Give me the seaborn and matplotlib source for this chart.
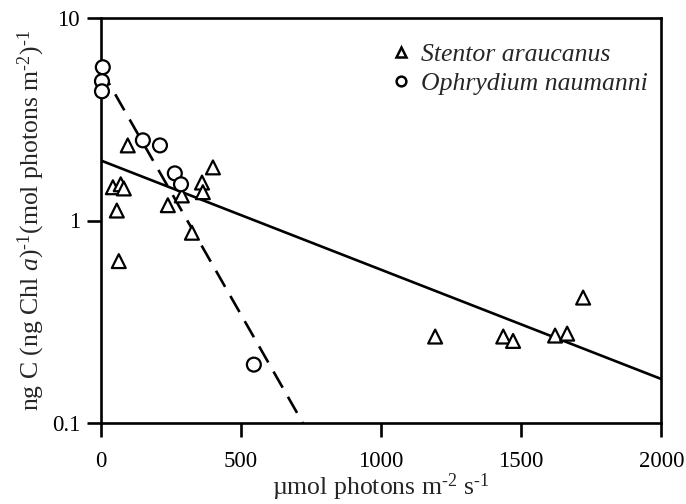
import numpy as np
import pandas as pd
import matplotlib
matplotlib.use("Agg")
import matplotlib.pyplot as plt
import seaborn as sns
from matplotlib.lines import Line2D

# ---- data ----
stentor_x = [96, 43, 71, 82, 57, 64, 239, 289, 325, 361, 364, 400,
             1193, 1436, 1471, 1621, 1664, 1721]
stentor_y = [2.35, 1.46, 1.51, 1.44, 1.12, 0.63, 1.19, 1.33, 0.87, 1.54, 1.38, 1.83,
             0.267, 0.267, 0.254, 0.27, 0.276, 0.416]
ophry_x = [7, 4, 4, 150, 211, 264, 286, 546]
ophry_y = [5.72, 4.88, 4.35, 2.49, 2.35, 1.71, 1.51, 0.194]
species = ["Stentor araucanus", "Ophrydium naumanni"]

# exponential fits y = a * 10**(b*x)
fit_stentor = (1.98, -0.00054)
fit_ophry = (5.6, -0.002426)
fit_stentor_range = [0, 2000]
fit_ophry_range = [0, 721]

x_ticks = [0, 500, 1000, 1500, 2000]
y_ticks = [0.1, 1, 10]
y_ticklabels = ["0.1", "1", "10"]

# ---- styling ----
sns.set_style("ticks")
plt.rcParams["font.family"] = ["Liberation Serif", "DejaVu Serif"]
plt.rcParams["mathtext.fontset"] = "custom"
plt.rcParams["mathtext.rm"] = "Liberation Serif"
plt.rcParams["mathtext.it"] = "Liberation Serif:italic"
plt.rcParams["mathtext.bf"] = "Liberation Serif:bold"

df = pd.DataFrame({
    "x": stentor_x + ophry_x,
    "y": stentor_y + ophry_y,
    "sp": [species[0]] * len(stentor_x) + [species[1]] * len(ophry_x),
})

fig = plt.figure(figsize=(6.86, 5.04), dpi=100)
ax = fig.add_axes([0.147, 0.161, 0.817, 0.803])

lw = 1.9
xs = np.linspace(*fit_stentor_range, 200)
ax.plot(xs, fit_stentor[0] * 10 ** (fit_stentor[1] * xs), color="black", lw=lw, zorder=2)
xo = np.linspace(*fit_ophry_range, 200)
ax.plot(xo, fit_ophry[0] * 10 ** (fit_ophry[1] * xo), color="black", lw=lw,
        dashes=(7, 4), zorder=2)

sns.scatterplot(data=df, x="x", y="y", style="sp", hue="sp",
                markers={species[0]: "^", species[1]: "o"},
                palette={species[0]: "black", species[1]: "black"},
                s=100, legend=False, ax=ax, zorder=3)
for coll in ax.collections:
    coll.set_facecolor("white")
    coll.set_edgecolor("black")
    coll.set_linewidth(1.6)
    coll.set_clip_on(False)

ax.set_yscale("log")
ax.set_xlim(0, 2000)
ax.set_ylim(0.1, 10)
ax.set_xticks(x_ticks)
ax.set_xticklabels([str(t) for t in x_ticks])
ax.set_yticks(y_ticks)
ax.set_yticklabels(y_ticklabels)
ax.yaxis.set_minor_locator(matplotlib.ticker.NullLocator())
ax.tick_params(axis="both", direction="out", length=10, width=1.9, labelsize=16.5,
               color="black", labelcolor="black")
ax.tick_params(axis="x", pad=10)
ax.tick_params(axis="y", pad=5)
for sp in ax.spines.values():
    sp.set_visible(True)
    sp.set_linewidth(1.9)
    sp.set_color("black")

hy = "\u2010"
ax.set_xlabel("\u00b5mol photons m$^{\\mathregular{" + hy + "2}}$ s$^{\\mathregular{" + hy + "1}}$",
              fontsize=18.5, labelpad=0)
ax.set_ylabel("ng C (ng Chl $a$)$^{\\mathregular{" + hy + "1}}$(mol photons m$^{\\mathregular{"
              + hy + "2}}$)$^{\\mathregular{" + hy + "1}}$",
              fontsize=18.5, labelpad=3)

handles = [
    Line2D([], [], marker="^", linestyle="none", markerfacecolor="white",
           markeredgecolor="black", markeredgewidth=1.8, markersize=7),
    Line2D([], [], marker="o", linestyle="none", markerfacecolor="white",
           markeredgecolor="black", markeredgewidth=1.8, markersize=7),
]
leg = ax.legend(handles, species, loc="upper right", frameon=False,
                prop={"family": "Liberation Serif", "style": "italic", "size": 18.5},
                handletextpad=0.3, labelspacing=0.25, borderaxespad=0.4,
                handlelength=0.9, bbox_to_anchor=(1.012, 0.99))

fig.savefig("out.png", dpi=100)
